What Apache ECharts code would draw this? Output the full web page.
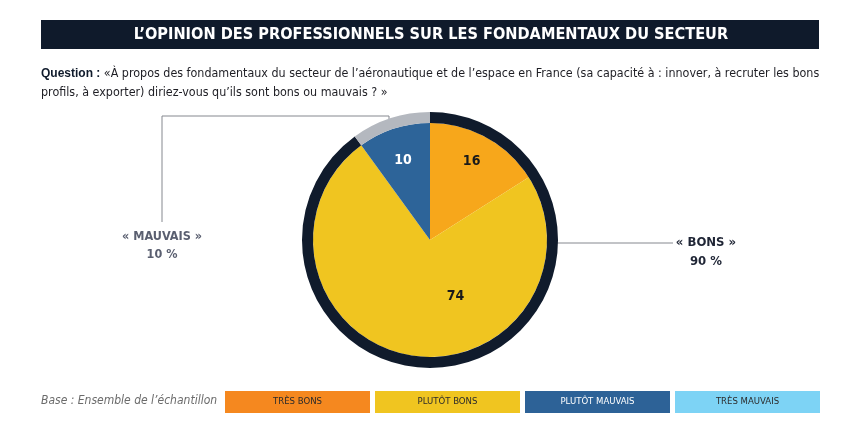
<!DOCTYPE html>
<html>
<head>
<meta charset="utf-8">
<script src="https://cdn.jsdelivr.net/npm/echarts@6/dist/echarts.min.js"></script>
<style>
  html, body { margin: 0; padding: 0; background: #fff; }
  #chart { width: 860px; height: 439px; }
</style>
</head>
<body>
<div id="chart"></div>
<script>
// détail des réponses (camembert intérieur)
const categories = ['Très bons', 'Plutôt bons', 'Plutôt mauvais', 'Très mauvais']
const detailValues = [16, 74, 10, 0]
// regroupements (anneau extérieur)
const groupNames = ['« BONS »', '« MAUVAIS »']
const groupValues = [90, 10]
const groupPct = ['90 %', '10 %']

const FONT = "'Liberation Sans Narrow', 'DejaVu Sans Condensed', Roboto, sans-serif"
const NAVY = '#0f1a2b'
const pieColors = ['#f7a71b', '#f0c520', '#2d6499', '#7dd3f5']
const legendColors = ['#f5881f', '#f0c520', '#2d6297', '#7dd3f5']
const ringColors = ['#101b2c', '#b4b8bf']

const cx = 430, cy = 240, rIn = 117, rOut = 128

const chart = echarts.init(document.getElementById('chart'), null, { renderer: 'canvas' })

// positions des étiquettes dans les parts
const labelShift = [
  { dx: 12, dy: -25 },
  { dx: 37, dy: -4 },
  { dx: -8, dy: -21 },
  { dx: 0, dy: 0 }
]

const legendGraphics = categories.map((c, i) => ({
  type: 'group',
  left: 225 + i * 150,
  top: 391,
  children: [
    { type: 'rect', shape: { x: 0, y: 0, width: 145, height: 22 }, style: { fill: legendColors[i] } },
    {
      type: 'text', x: 72.5, y: 11,
      style: {
        text: c.toUpperCase(), fill: i === 2 ? '#ffffff' : '#2b2b2b',
        font: `9.5px ${FONT}`, align: 'center', verticalAlign: 'middle'
      }
    }
  ]
}))

chart.setOption({
  backgroundColor: '#ffffff',
  animation: false,
  graphic: [
    { type: 'rect', shape: { x: 41, y: 20, width: 778, height: 29 }, style: { fill: NAVY } },
    {
      type: 'text', x: 431, y: 35,
      style: {
        text: 'L’OPINION DES PROFESSIONNELS SUR LES FONDAMENTAUX DU SECTEUR',
        fill: '#ffffff', font: `bold 16.2px ${FONT}`, align: 'center', verticalAlign: 'middle'
      }
    },
    {
      type: 'text', x: 41, y: 74,
      style: {
        text: '{b|Question :} «À propos des fondamentaux du secteur de l’aéronautique et de l’espace en France (sa capacité à : innover, à recruter les bons',
        rich: { b: { fontWeight: 'bold', fill: NAVY, font: `bold 12.4px ${FONT}` } },
        fill: '#1e1e24', font: `12.4px ${FONT}`, verticalAlign: 'middle'
      }
    },
    {
      type: 'text', x: 41, y: 93,
      style: {
        text: 'profils, à exporter) diriez-vous qu’ils sont bons ou mauvais ? »',
        fill: '#1e1e24', font: `12.4px ${FONT}`, verticalAlign: 'middle'
      }
    },
    // traits de rappel
    {
      type: 'polyline',
      shape: { points: [[389, 124], [389, 116], [162, 116], [162, 222]] },
      style: { stroke: '#85888f', lineWidth: 1, fill: null }
    },
    {
      type: 'polyline',
      shape: { points: [[cx + rOut - 2, 243], [673, 243]] },
      style: { stroke: '#85888f', lineWidth: 1, fill: null }
    },
    {
      type: 'text', x: 162, y: 237,
      style: { text: groupNames[1], fill: '#5a5f70', font: `bold 12.5px ${FONT}`, align: 'center', verticalAlign: 'middle' }
    },
    {
      type: 'text', x: 162, y: 255,
      style: { text: groupPct[1], fill: '#5a5f70', font: `bold 12.5px ${FONT}`, align: 'center', verticalAlign: 'middle' }
    },
    {
      type: 'text', x: 706, y: 243,
      style: { text: groupNames[0], fill: '#1f2535', font: `bold 13px ${FONT}`, align: 'center', verticalAlign: 'middle' }
    },
    {
      type: 'text', x: 706, y: 262,
      style: { text: groupPct[0], fill: '#1f2535', font: `bold 13px ${FONT}`, align: 'center', verticalAlign: 'middle' }
    },
    {
      type: 'text', x: 41, y: 401,
      style: {
        text: 'Base : Ensemble de l’échantillon', fill: '#6b6b6b',
        font: `italic 12px ${FONT}`, verticalAlign: 'middle'
      }
    },
    ...legendGraphics
  ],
  series: [
    {
      type: 'pie',
      center: [cx, cy],
      radius: [0, rIn],
      startAngle: 90,
      clockwise: true,
      silent: true,
      itemStyle: { borderWidth: 0 },
      label: {
        show: true,
        position: 'inside',
        formatter: '{c}',
        fontFamily: FONT,
        fontWeight: 'bold',
        fontSize: 14,
        color: '#1a1a1a'
      },
      labelLine: { show: false },
      labelLayout: (p) => labelShift[p.dataIndex],
      data: categories.map((name, i) => ({
        name,
        value: detailValues[i],
        itemStyle: { color: pieColors[i] },
        label: {
          show: detailValues[i] > 0,
          color: i === 2 ? '#ffffff' : '#1a1a1a'
        }
      }))
    },
    {
      type: 'pie',
      center: [cx, cy],
      radius: [rIn, rOut],
      startAngle: 90,
      clockwise: true,
      silent: true,
      itemStyle: { borderWidth: 0 },
      label: { show: false },
      labelLine: { show: false },
      data: groupNames.map((name, i) => ({
        name,
        value: groupValues[i],
        itemStyle: { color: ringColors[i] }
      }))
    }
  ]
})
</script>
</body>
</html>
